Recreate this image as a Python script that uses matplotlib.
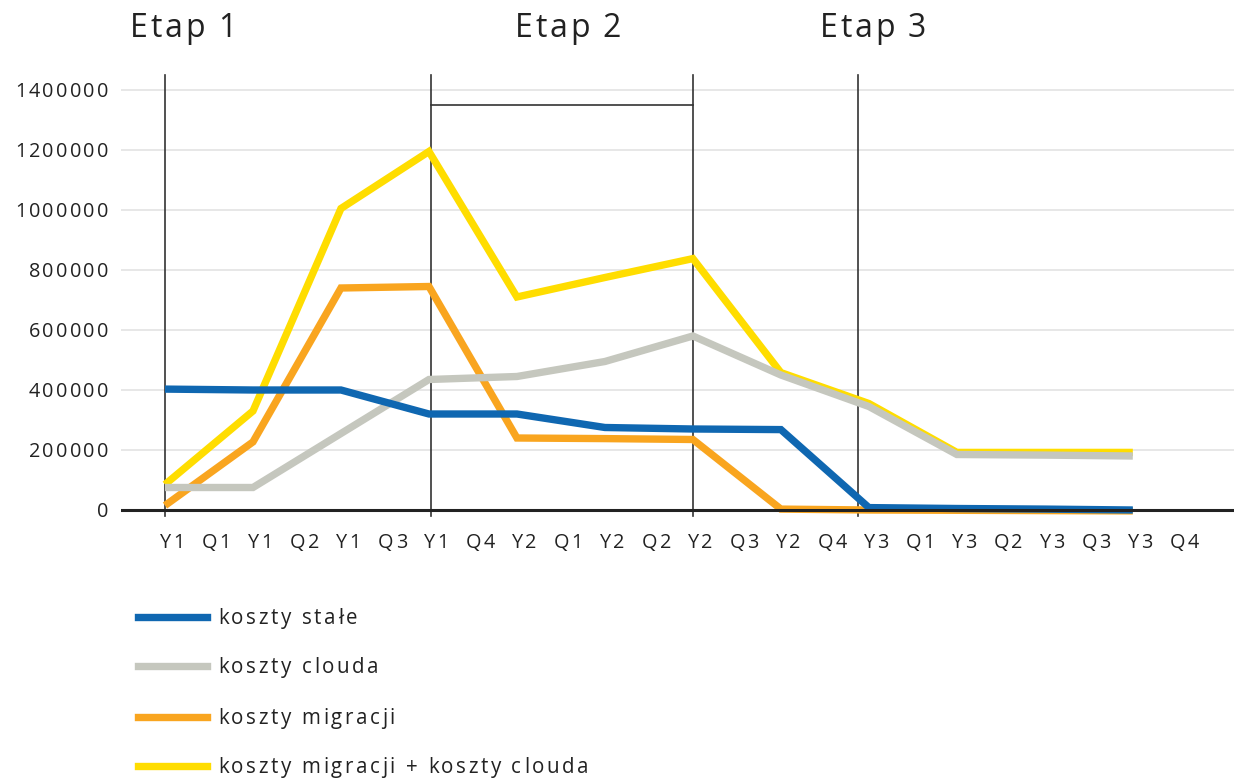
import matplotlib
matplotlib.use("Agg")
import matplotlib.pyplot as plt
from matplotlib import font_manager as fm
from matplotlib.ft2font import FT2Font
from matplotlib.transforms import IdentityTransform

# ---------------- data ----------------
years = ["Y1", "Y1", "Y1", "Y1", "Y2", "Y2", "Y2", "Y2", "Y3", "Y3", "Y3", "Y3"]
quarters = ["Q1", "Q2", "Q3", "Q4", "Q1", "Q2", "Q3", "Q4", "Q1", "Q2", "Q3", "Q4"]

koszty_stale = [403000, 400000, 400000, 320000, 320000, 275000, 270000, 268000, 8000, 5000, 3000, 0]
koszty_clouda = [75000, 75000, 255000, 435000, 445000, 495000, 580000, 450000, 345000, 185000, 183000, 180000]
koszty_migracji = [15000, 227000, 740000, 745000, 240000, 238000, 235000, 3000, 0, -1000, -2000, -3000]
koszty_mig_cloud = [85000, 330000, 1005000, 1195000, 710000, 775000, 838000, 458000, 355000, 192000, 192000, 192000]

series_labels = ["koszty stałe", "koszty clouda", "koszty migracji", "koszty migracji + koszty clouda"]
series_colors = ["#0f67b1", "#c5c7be", "#f9a51f", "#ffdd00"]

stage_titles = ["Etap 1", "Etap 2", "Etap 3"]
stage_lines = [0, 3.02, 6, 7.88]
y_ticks = [0, 200000, 400000, 600000, 800000, 1000000, 1200000, 1400000]

# ---------------- figure ----------------
W, H, DPI = 1234, 778, 100
fig = plt.figure(figsize=(W / DPI, H / DPI), dpi=DPI)
ax = fig.add_axes([121 / W, 1 - 516 / H, (W - 121) / W, (516 - 75) / H])
ax.set_xlim(-0.5, 12.15)
ax.set_ylim(-20000, 1450000)
for s in ax.spines.values():
    s.set_visible(False)
ax.set_xticks([])
ax.set_yticks([])

TXT = "#222222"
FONT = "Open Sans"
font_path = fm.findfont(fm.FontProperties(family=FONT))


def advances(s, size_pt):
    f = FT2Font(font_path)
    f.set_size(size_pt, DPI)
    out = []
    for c in s:
        g = f.load_char(ord(c))
        out.append(g.linearHoriAdvance / 65536.0)
    return out


def spaced(xp, yp_top, s, size_pt, spacing, ha="left", va="baseline", color=TXT):
    """Draw letter-spaced text in pixel coords (y measured from top)."""
    adv = advances(s, size_pt)
    total = sum(adv) + spacing * (len(s) - 1)
    if ha == "center":
        x0 = xp - total / 2
    elif ha == "right":
        x0 = xp - total
    else:
        x0 = xp
    x = x0
    for c, a in zip(s, adv):
        if c != " ":
            fig.text(x, H - yp_top, c, transform=IdentityTransform(), fontsize=size_pt,
                     family=FONT, color=color, ha="left", va=va)
        x += a + spacing


# grid
for v in y_ticks[1:]:
    ax.axhline(v, color="#e3e3e3", lw=1.2, zorder=0)
ax.axhline(0, color="#222222", lw=2.2, zorder=5)

# stage vertical lines
for xv in stage_lines:
    ax.plot([xv, xv], [-20000, 1450000], color="#333333", lw=1.2, zorder=1, clip_on=False)
ax.plot([stage_lines[1], stage_lines[2]], [1350000, 1350000], color="#333333", lw=1.2, zorder=1)

# series
xs = list(range(len(years)))
series = [koszty_stale, koszty_clouda, koszty_migracji, koszty_mig_cloud]
zorders = [4.4, 4.3, 4.2, 4.1]
for vals, col, z in zip(series, series_colors, zorders):
    ax.plot(xs, vals, color=col, lw=5.3, zorder=z, solid_joinstyle="miter",
            solid_capstyle="butt", clip_on=False)

# y tick labels
for v in y_ticks:
    px, py = ax.transData.transform((0, v))
    ytop = H - py
    spaced(108, ytop + 7, f"{v}", 14.3, 2.2, ha="right")

# x tick labels
for i, (yl, ql) in enumerate(zip(years, quarters)):
    for off, lab in ((0.08, yl), (0.585, ql)):
        px, _ = ax.transData.transform((i + off, 0))
        spaced(px, 548, lab, 14.3, 2.2, ha="center")

# stage titles
title_x = [130, 515, 820]
for t, tx in zip(stage_titles, title_x):
    spaced(tx, 37, t, 23, 2.6)

# legend
leg_y = [617, 666, 717, 766]
for lab, col, ly in zip(series_labels, series_colors, leg_y):
    fig.add_artist(plt.Line2D([138 / W, 207 / W], [1 - ly / H, 1 - ly / H], color=col, lw=5.3))
    spaced(218, ly + 7, lab, 14.8, 2.6)

fig.savefig("out.png", dpi=DPI)
